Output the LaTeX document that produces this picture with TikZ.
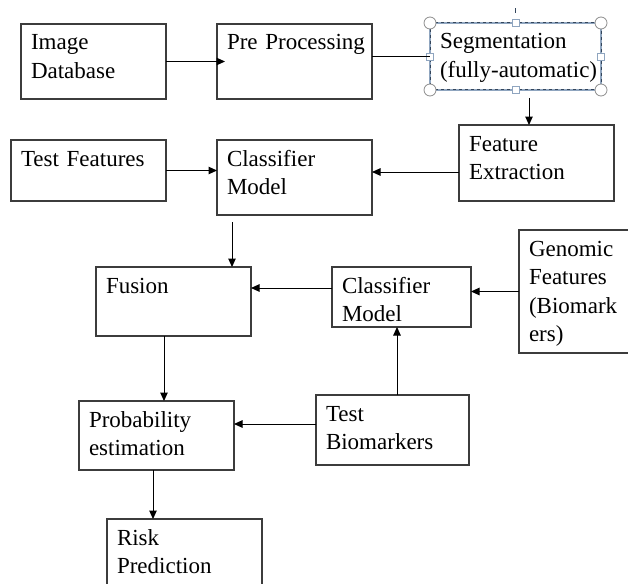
\documentclass[tikz,border=0pt]{standalone}
\usepackage{fontspec}
\setmainfont{Liberation Serif}
\usetikzlibrary{arrows.meta}

\definecolor{boxline}{HTML}{3C3C3C}
\definecolor{selline}{HTML}{8FA5BF}
\definecolor{seldash}{HTML}{34465C}
\definecolor{handle}{HTML}{8C8C8C}

\begin{document}
\begin{tikzpicture}[
        x=1pt,y=-1pt,
        font=\fontsize{23}{28.5}\selectfont,
        blk/.style 2 args={draw=boxline,line width=1.2pt,anchor=north west,align=left,
            inner xsep=10pt,inner ysep=0pt,outer sep=0pt,
            text width=#1-20pt,text height=26pt,text depth=#2-26pt},
        ->,>={Triangle[length=8.5pt,width=7.5pt]},line width=1pt
    ]
        \useasboundingbox (0,0) rectangle (628,583);

        \node[blk={145pt}{75pt}] (imgdb) at (21,24) {Image\\Database};
        \node[blk={155pt}{75pt}] (pre) at (217,24) {\mbox{Pre Processing}};
        \node[blk={171pt}{67pt},draw=selline] (seg) at (430,23) {Segmentation\\\mbox{(fully-automatic)}};
        \node[blk={155pt}{76pt}] (feat) at (459,125) {Feature\\Extraction};
        \node[blk={155pt}{61pt}] (testf) at (11,140) {\mbox{Test Features}};
        \node[blk={155pt}{75pt}] (cls1) at (217,140) {Classifier\\Model};
        \node[blk={155pt}{69pt}] (fusion) at (96,267) {Fusion};
        \node[blk={139pt}{60pt}] (cls2) at (332,267) {Classifier\\Model};
        \node[blk={121pt}{123pt}] (genom) at (519,230) {Genomic\\Features\\(Biomark\\ers)};
        \node[blk={153pt}{70pt}] (testb) at (316,395) {Test\\Biomarkers};
        \node[blk={155pt}{69pt}] (prob) at (79,401) {Probability\\estimation};
        \node[blk={155pt}{76pt}] (risk) at (107,519) {Risk\\Prediction};

        \draw[-,seldash,dashed] (seg.north west) rectangle (seg.south east);
        \draw[-,seldash,line width=0.8pt] ([yshift=10pt]seg.north) -- ([yshift=15pt]seg.north);
        \foreach \c in {north west,north east,south west,south east}
            \draw[handle,fill=white,line width=0.8pt] (seg.\c) circle (6pt);
        \foreach \c in {north,south,west,east}
            \draw[selline,fill=white,line width=0.8pt] ([shift={(-3.5pt,-3.5pt)}]seg.\c) rectangle ++(7pt,7pt);

        \coordinate (fc) at ([yshift=-9pt]feat.west);
        \coordinate (cf) at ([shift={(15pt,-7pt)}]cls1.south west);
        \coordinate (cw) at ([yshift=9pt]cls2.west);
        \coordinate (tb) at ([xshift=4.5pt]testb.north);
        \coordinate (tw) at ([yshift=6pt]testb.west);
        \coordinate (fp) at ([xshift=-9.5pt]fusion.south);
        \coordinate (pr) at ([xshift=-3.5pt]prob.south);

        \draw (imgdb.east) -- ([xshift=8pt]pre.west);
        \draw[-] (seg.west -| pre.east) -- (seg.west);
        \draw ([shift={(-7.5pt,27pt)}]feat.north) -- ([xshift=-7.5pt]feat.north);
        \draw (fc) -- (fc -| cls1.east);
        \draw (testf.east) -- (testf.east -| cls1.west);
        \draw (cf) -- (cf |- fusion.north);
        \draw (cw) -- (cw -| fusion.east);
        \draw (genom.west) -- (genom.west -| cls2.east);
        \draw (tb) -- (tb |- cls2.south);
        \draw (tw) -- (tw -| prob.east);
        \draw (fp) -- (fp |- prob.north);
        \draw (pr) -- (pr |- risk.north);
    \end{tikzpicture}
\end{document}
